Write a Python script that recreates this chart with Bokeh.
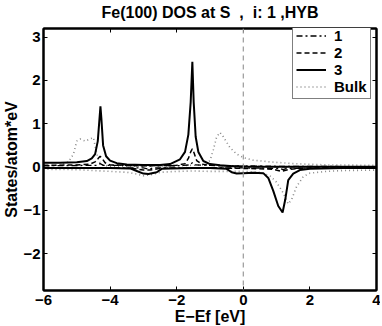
from bokeh.plotting import figure
from bokeh.models import LinearAxis, Span, Legend, LegendItem, Range1d, FixedTicker, Title
from bokeh.embed import file_html
from bokeh.resources import INLINE

# ---- data ----
# series 3 (solid)
x3_up = [-6, -5.5, -5.0, -4.7, -4.55, -4.45, -4.37, -4.32, -4.29, -4.26, -4.21, -4.12, -4.0, -3.8, -3.5, -3.0, -2.5, -2.2, -1.9, -1.75, -1.65, -1.58, -1.53, -1.49, -1.43, -1.35, -1.2, -1.0, -0.7, -0.3, 0, 0.5, 1, 2, 3, 4]
y3_up = [0.1, 0.1, 0.11, 0.14, 0.2, 0.3, 0.6, 1.1, 1.4, 1.1, 0.5, 0.25, 0.15, 0.09, 0.06, 0.05, 0.05, 0.07, 0.18, 0.35, 0.75, 1.5, 2.43, 1.5, 0.7, 0.35, 0.14, 0.07, 0.04, 0.02, 0.01, 0.01, 0.01, 0.01, 0.01, 0.01]
x3_dn = [-6, -4, -3.4, -3.2, -3.0, -2.85, -2.6, -2.45, -2.2, -1.5, -1.0, -0.5, -0.35, -0.2, 0, 0.3, 0.6, 0.75, 0.9, 1.05, 1.18, 1.26, 1.35, 1.5, 1.7, 2, 3, 4]
y3_dn = [-0.02, -0.02, -0.03, -0.09, -0.15, -0.16, -0.12, -0.04, -0.03, -0.02, -0.02, -0.04, -0.12, -0.15, -0.14, -0.13, -0.14, -0.25, -0.55, -0.9, -1.05, -0.75, -0.3, -0.15, -0.07, -0.04, -0.02, -0.02]

# series 2 (dashed)
x2_up = [-6, -5, -4.6, -4.45, -4.36, -4.3, -4.24, -4.15, -4.0, -3, -2.0, -1.75, -1.65, -1.58, -1.53, -1.48, -1.4, -1.25, -1.0, 0, 1, 2, 4]
y2_up = [0.04, 0.05, 0.07, 0.12, 0.2, 0.25, 0.2, 0.1, 0.05, 0.03, 0.04, 0.08, 0.2, 0.35, 0.42, 0.33, 0.15, 0.07, 0.04, 0.02, 0.01, 0.01, 0.01]
x2_dn = [-6, -3.3, -3.0, -2.8, -2.5, -1, 0, 0.9, 1.15, 1.4, 2, 4]
y2_dn = [-0.02, -0.03, -0.07, -0.07, -0.03, -0.02, -0.03, -0.05, -0.1, -0.05, -0.02, -0.01]

# series 1 (dash-dot)
x1_up = [-6, -4.4, -4.3, -4.2, -2, -1.6, -1.53, -1.45, 0, 4]
y1_up = [0.03, 0.04, 0.08, 0.04, 0.03, 0.05, 0.1, 0.05, 0.02, 0.01]
x1_dn = [-6, -3, -2.85, -2.7, 0, 1.1, 1.2, 1.3, 4]
y1_dn = [-0.02, -0.02, -0.05, -0.02, -0.02, -0.03, -0.06, -0.03, -0.01]

# bulk (dotted)
xb_up = [-6, -5.5, -5.25, -5.1, -5.0, -4.9, -4.75, -4.6, -4.5, -4.44, -4.35, -4.25, -4.0, -3.0, -2.0, -1.2, -1.0, -0.9, -0.8, -0.7, -0.6, -0.4, -0.2, 0, 0.3, 0.8, 1.5, 2.5, 4]
yb_up = [0.02, 0.05, 0.12, 0.3, 0.6, 0.65, 0.6, 0.65, 0.68, 0.45, 0.15, 0.05, 0.02, 0.02, 0.03, 0.05, 0.15, 0.4, 0.7, 0.8, 0.7, 0.45, 0.3, 0.22, 0.16, 0.12, 0.08, 0.05, 0.04]
xb_dn = [-6, -5, -4.5, -4, -3.5, -3.2, -3.0, -2.8, -2.5, -2, -1.5, -1, -0.5, 0, 0.5, 0.8, 1.0, 1.2, 1.35, 1.45, 1.6, 1.8, 2.0, 2.5, 3, 4]
yb_dn = [-0.05, -0.06, -0.08, -0.1, -0.12, -0.16, -0.2, -0.18, -0.12, -0.1, -0.09, -0.1, -0.1, -0.1, -0.12, -0.2, -0.35, -0.6, -0.85, -0.75, -0.45, -0.22, -0.14, -0.1, -0.08, -0.07]

x_ticks = [-6, -4, -2, 0, 2, 4]
y_ticks = [-2, -1, 0, 1, 2, 3]
title_text = "Fe(100) DOS at S \u00a0, \u00a0i: 1 ,HYB"

FONT = "Liberation Sans"

p = figure(frame_width=333, frame_height=262, output_backend="svg", toolbar_location=None,
           x_range=Range1d(-6, 4), y_range=Range1d(-2.85, 3.2),
           min_border_left=33, min_border_right=4, min_border_top=24, min_border_bottom=36)
p.styles = {"margin-top": "-6px"}
p.title = Title(text=title_text, align="center", text_color="black",
                text_font=FONT, text_font_size="16px", text_font_style="bold", standoff=15)
p.xgrid.visible = False
p.ygrid.visible = False
p.outline_line_color = "black"
p.outline_line_width = 2
p.outline_line_alpha = 1

for ax in (p.xaxis[0], p.yaxis[0]):
    ax.major_tick_in = 4
    ax.major_tick_out = 0
    ax.minor_tick_line_color = None
    ax.axis_line_width = 2
    ax.major_tick_line_width = 1
    ax.major_label_text_font = FONT
    ax.major_label_text_font_size = "15px"
    ax.major_label_text_font_style = "bold"
    ax.axis_label_text_font = FONT
    ax.axis_label_text_font_size = "16px"
    ax.axis_label_text_font_style = "bold"
    ax.axis_label_text_color = "black"
    ax.major_label_text_color = "black"
p.xaxis[0].ticker = FixedTicker(ticks=x_ticks)
p.yaxis[0].ticker = FixedTicker(ticks=y_ticks)
p.xaxis[0].axis_label = "E\u2212Ef [eV]"
p.yaxis[0].axis_label = "States/atom*eV"
p.xaxis[0].axis_label_standoff = 0
p.yaxis[0].axis_label_standoff = 0
p.xaxis[0].major_label_standoff = 4
p.yaxis[0].major_label_standoff = 3
p.yaxis[0].major_label_overrides = {-2: "\u22122", -1: "\u22121"}
p.xaxis[0].major_label_overrides = {-6: "\u22126", -4: "\u22124", -2: "\u22122"}

ax_top = LinearAxis(ticker=FixedTicker(ticks=x_ticks), major_tick_in=4, major_tick_out=0,
                    minor_tick_line_color=None, major_label_text_font_size="0px",
                    major_label_text_color=None, major_label_standoff=0, axis_line_width=2)
ax_right = LinearAxis(ticker=FixedTicker(ticks=y_ticks), major_tick_in=4, major_tick_out=0,
                      minor_tick_line_color=None, major_label_text_font_size="0px",
                      major_label_text_color=None, major_label_standoff=0, axis_line_width=2)
p.add_layout(ax_top, "above")
p.add_layout(ax_right, "right")

p.add_layout(Span(location=0, dimension="height", line_color="#999999", line_dash="5 4", line_width=1.2))

bulk_kw = dict(line_color="#888888", line_dash="1 3", line_width=1.6)
r_b1 = p.line(xb_up, yb_up, **bulk_kw)
p.line(xb_dn, yb_dn, **bulk_kw)
d1_kw = dict(line_color="black", line_dash="6 3 2 3", line_width=1.3)
r_1 = p.line(x1_up, y1_up, **d1_kw)
p.line(x1_dn, y1_dn, **d1_kw)
d2_kw = dict(line_color="black", line_dash="5 3", line_width=1.5)
r_2 = p.line(x2_up, y2_up, **d2_kw)
p.line(x2_dn, y2_dn, **d2_kw)
d3_kw = dict(line_color="black", line_width=2)
r_3 = p.line(x3_up, y3_up, **d3_kw)
p.line(x3_dn, y3_dn, **d3_kw)

legend = Legend(items=[LegendItem(label="1", renderers=[r_1]),
                       LegendItem(label="2", renderers=[r_2]),
                       LegendItem(label="3", renderers=[r_3]),
                       LegendItem(label="Bulk", renderers=[r_b1])],
                location=(249, 191), padding=3, spacing=0, margin=0,
                glyph_width=30, glyph_height=15, label_height=15, label_standoff=8,
                label_text_font=FONT, label_text_font_size="15px", label_text_font_style="bold",
                label_text_color="black",
                border_line_color="black", border_line_width=1,
                background_fill_color="white", background_fill_alpha=1)
p.add_layout(legend)

open("out.html", "w").write(file_html(p, INLINE))
